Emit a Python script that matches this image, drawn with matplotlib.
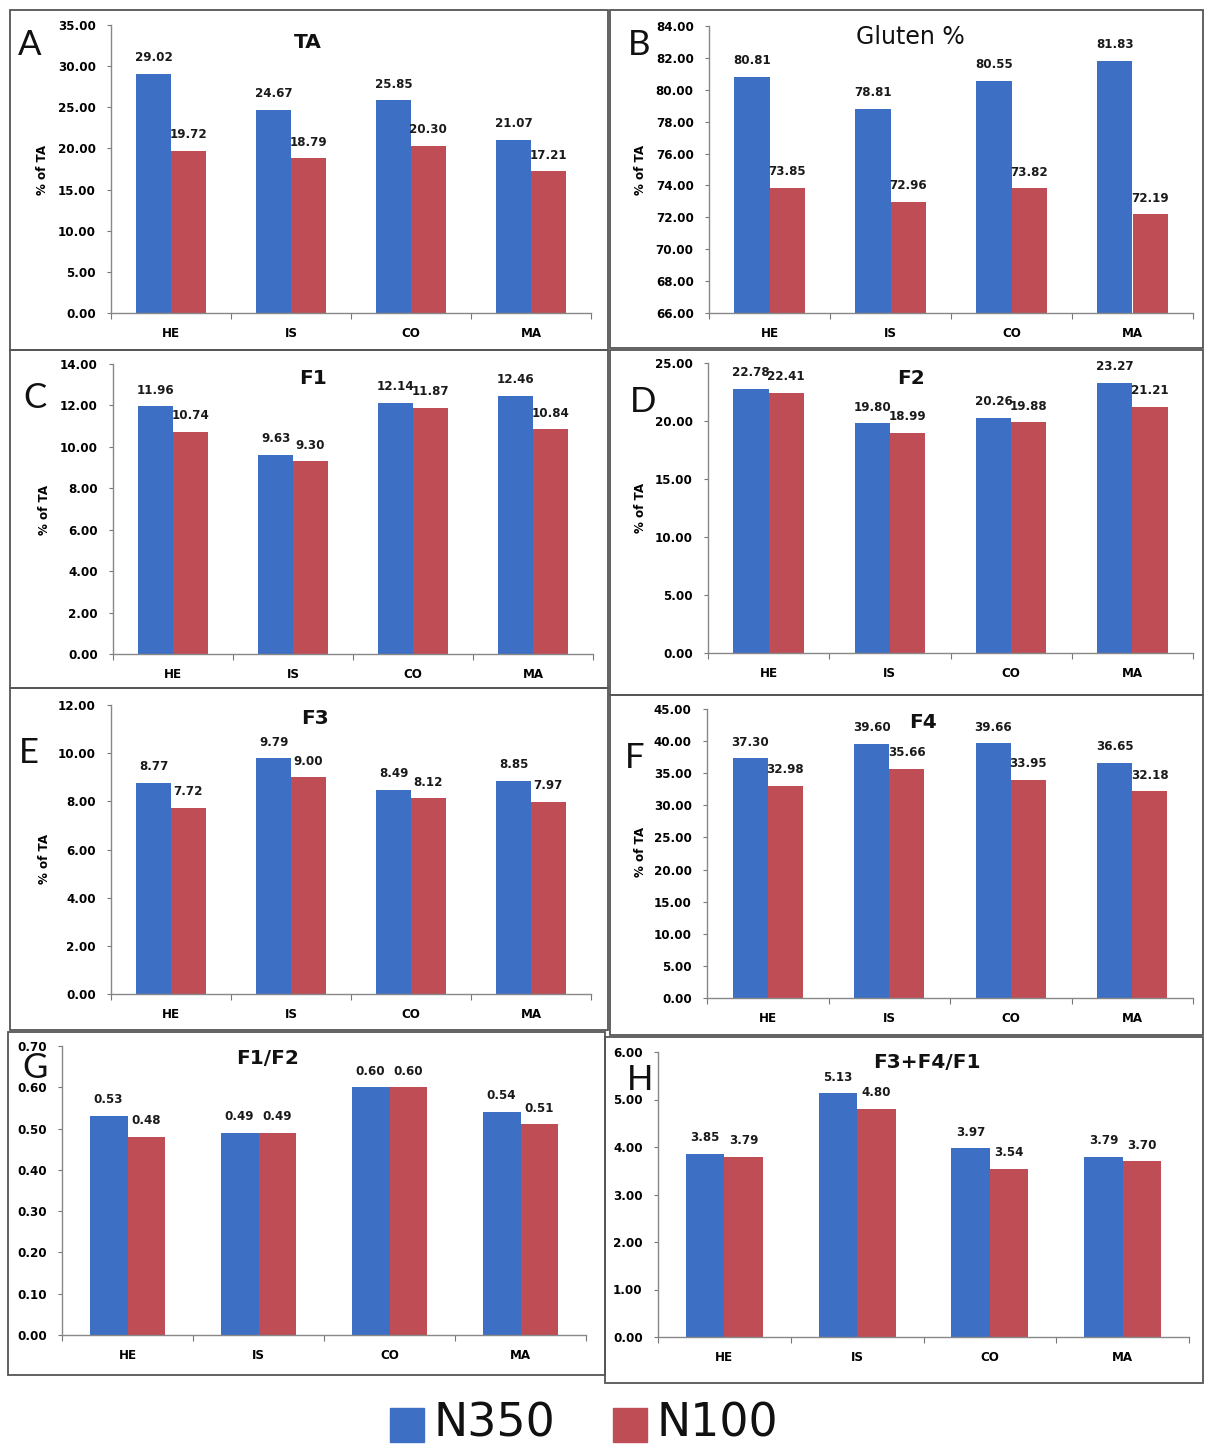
import matplotlib
matplotlib.use("Agg")
import matplotlib.pyplot as plt
from matplotlib.patches import Rectangle
import numpy as np

plt.rcParams['font.family'] = ['DejaVu Sans']

W, H = 1205, 1449

categories = ["HE", "IS", "CO", "MA"]
series_names = ["N350", "N100"]

ta_n350 = [29.02, 24.67, 25.85, 21.07]
ta_n100 = [19.72, 18.79, 20.30, 17.21]
gluten_n350 = [80.81, 78.81, 80.55, 81.83]
gluten_n100 = [73.85, 72.96, 73.82, 72.19]
f1_n350 = [11.96, 9.63, 12.14, 12.46]
f1_n100 = [10.74, 9.30, 11.87, 10.84]
f2_n350 = [22.78, 19.80, 20.26, 23.27]
f2_n100 = [22.41, 18.99, 19.88, 21.21]
f3_n350 = [8.77, 9.79, 8.49, 8.85]
f3_n100 = [7.72, 9.00, 8.12, 7.97]
f4_n350 = [37.30, 39.60, 39.66, 36.65]
f4_n100 = [32.98, 35.66, 33.95, 32.18]
f1f2_n350 = [0.53, 0.49, 0.60, 0.54]
f1f2_n100 = [0.48, 0.49, 0.60, 0.51]
f34f1_n350 = [3.85, 5.13, 3.97, 3.79]
f34f1_n100 = [3.79, 4.80, 3.54, 3.70]

BLUE = "#3D6FC4"
RED = "#BE4D55"
SMALL = 8.6

# panel: letter, title, data, y-range, tick step, ylabel, axes box (px), frame box (px)
panels = [
    dict(letter="A", title="TA", a=ta_n350, b=ta_n100, ylim=(0, 35), step=5, ylabel=True,
         ax=(111, 25, 591, 313), frame=(10, 10, 608, 350), lpos=(30, 45), tpos=(308, 42), ylpos=(43, 170)),
    dict(letter="B", title="Gluten %", a=gluten_n350, b=gluten_n100, ylim=(66, 84), step=2, ylabel=True,
         ax=(709, 26, 1193, 313), frame=(610, 10, 1203, 348), lpos=(639, 45), tpos=(910, 37), ylpos=(641, 170),
         tw="normal", ts=17),
    dict(letter="C", title="F1", a=f1_n350, b=f1_n100, ylim=(0, 14), step=2, ylabel=True,
         ax=(113, 364, 593, 654), frame=(10, 350, 608, 688), lpos=(35, 398), tpos=(313, 379), ylpos=(44, 510)),
    dict(letter="D", title="F2", a=f2_n350, b=f2_n100, ylim=(0, 25), step=5, ylabel=True,
         ax=(708, 363, 1193, 653), frame=(610, 350, 1203, 695), lpos=(643, 402), tpos=(911, 379), ylpos=(641, 508)),
    dict(letter="E", title="F3", a=f3_n350, b=f3_n100, ylim=(0, 12), step=2, ylabel=True,
         ax=(111, 705, 591, 994), frame=(10, 688, 608, 1030), lpos=(29, 753), tpos=(315, 719), ylpos=(44, 859)),
    dict(letter="F", title="F4", a=f4_n350, b=f4_n100, ylim=(0, 45), step=5, ylabel=True,
         ax=(707, 709, 1193, 998), frame=(610, 695, 1203, 1035), lpos=(635, 758), tpos=(923, 723), ylpos=(641, 852)),
    dict(letter="G", title="F1/F2", a=f1f2_n350, b=f1f2_n100, ylim=(0, 0.70), step=0.1, ylabel=False,
         ax=(62, 1046, 586, 1335), frame=(8, 1032, 605, 1375), lpos=(35, 1068), tpos=(268, 1058)),
    dict(letter="H", title="F3+F4/F1", a=f34f1_n350, b=f34f1_n100, ylim=(0, 6), step=1, ylabel=False,
         ax=(658, 1052, 1189, 1337), frame=(605, 1037, 1203, 1383), lpos=(640, 1080), tpos=(927, 1063)),
]

fig = plt.figure(figsize=(W / 100, H / 100), dpi=100)
fig.patch.set_facecolor("white")


def fx(x):
    return x / W


def fy(y):
    return 1 - y / H


for p in panels:
    fl, ft, fr, fb = p["frame"]
    fig.patches.append(Rectangle((fx(fl), fy(fb)), fx(fr) - fx(fl), fy(ft) - fy(fb),
                                 transform=fig.transFigure, fill=False,
                                 edgecolor="#555555", linewidth=1.3, zorder=0))

    l, t, r, b = p["ax"]
    ax = fig.add_axes([fx(l), fy(b), fx(r) - fx(l), fy(t) - fy(b)])
    ax.patch.set_alpha(0)
    x = np.arange(len(categories)) + 0.5
    bw = 0.29
    ax.bar(x - bw / 2, p["a"], bw, color=BLUE, label=series_names[0], zorder=2)
    ax.bar(x + bw / 2, p["b"], bw, color=RED, label=series_names[1], zorder=2)
    lo, hi = p["ylim"]
    ax.set_ylim(lo, hi)
    ax.set_xlim(0, 4)
    for xs, vals in ((x - bw / 2, p["a"]), (x + bw / 2, p["b"])):
        for xi, v in zip(xs, vals):
            ax.annotate(f"{v:.2f}", (xi, v), xytext=(0, 7), textcoords="offset points",
                        ha="center", va="bottom", fontsize=SMALL, fontweight="bold", color="#1a1a1a")

    ticks = np.arange(lo, hi + p["step"] / 2, p["step"])
    ax.set_yticks(ticks)
    ax.set_yticklabels([f"{v:.2f}" for v in ticks], fontsize=SMALL, fontweight="bold")
    ax.set_xticks(np.arange(0, 5))
    ax.set_xticklabels([])
    ax.set_xticks(x, minor=True)
    ax.set_xticklabels(categories, minor=True, fontsize=SMALL, fontweight="bold")
    ax.tick_params(axis="x", which="major", length=4, color="#777777", direction="out")
    ax.tick_params(axis="x", which="minor", length=0, pad=10)
    ax.tick_params(axis="y", length=3, color="#777777", pad=8)
    for s in ("top", "right"):
        ax.spines[s].set_visible(False)
    for s in ("left", "bottom"):
        ax.spines[s].set_color("#888888")
        ax.spines[s].set_linewidth(1.0)

    fig.text(fx(p["lpos"][0]), fy(p["lpos"][1]), p["letter"], fontsize=25, family="Lato",
             ha="center", va="center", color="#111111")
    fig.text(fx(p["tpos"][0]), fy(p["tpos"][1]), p["title"], fontsize=p.get("ts", 14.5),
             fontweight=p.get("tw", "bold"), ha="center", va="center", color="#111111")
    if p["ylabel"]:
        fig.text(fx(p["ylpos"][0]), fy(p["ylpos"][1]), "% of TA", rotation=90,
                 fontsize=SMALL, fontweight="bold", ha="center", va="center")

# shared legend
legend_items = [(series_names[0], BLUE, 390, 434), (series_names[1], RED, 613, 657)]
for name, col, sx, tx in legend_items:
    fig.patches.append(Rectangle((fx(sx), fy(1442)), fx(34), 34 / H,
                                 transform=fig.transFigure, color=col))
    fig.text(fx(tx), fy(1424), name, fontsize=33, ha="left", va="center", color="#111111")

fig.savefig("out.png", dpi=100)
